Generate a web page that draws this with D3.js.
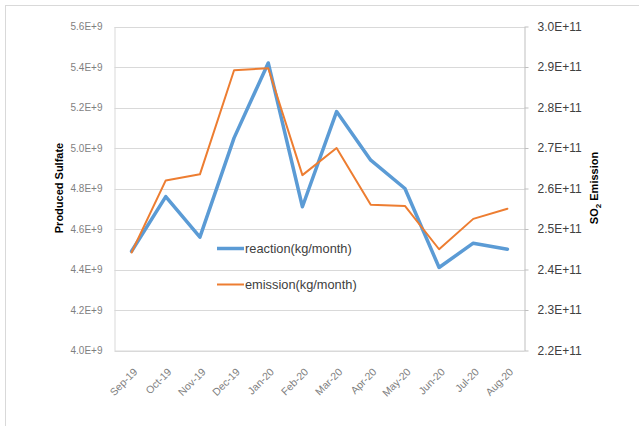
<!DOCTYPE html>
<html>
<head>
<meta charset="utf-8">
<script src="https://cdn.jsdelivr.net/npm/d3@7"></script>
<style>
  html, body { margin: 0; padding: 0; background: #fff; }
  svg { display: block; font-family: "Liberation Sans", Arial, sans-serif; }
</style>
</head>
<body>
<svg id="chart" width="639" height="426"></svg>
<script>
const months = ["Sep-19","Oct-19","Nov-19","Dec-19","Jan-20","Feb-20","Mar-20","Apr-20","May-20","Jun-20","Jul-20","Aug-20"];
const reaction = [4.49e9, 4.76e9, 4.56e9, 5.05e9, 5.42e9, 4.71e9, 5.18e9, 4.94e9, 4.80e9, 4.41e9, 4.53e9, 4.50e9];
const emission = [2.442e11, 2.62e11, 2.635e11, 2.892e11, 2.897e11, 2.633e11, 2.70e11, 2.56e11, 2.557e11, 2.45e11, 2.525e11, 2.55e11];
const leftTicks = [4.0e9, 4.2e9, 4.4e9, 4.6e9, 4.8e9, 5.0e9, 5.2e9, 5.4e9, 5.6e9];
const rightTicks = [2.2e11, 2.3e11, 2.4e11, 2.5e11, 2.6e11, 2.7e11, 2.8e11, 2.9e11, 3.0e11];
const seriesNames = ["reaction(kg/month)", "emission(kg/month)"];

const svg = d3.select("#chart");
const L = 114.5, R = 524.5, T = 26.5, B = 350.5;

// outer frame
svg.append("rect").attr("x", 5.5).attr("y", 5.5).attr("width", 800).attr("height", 600)
  .attr("fill", "none").attr("stroke", "#d9d9d9").attr("stroke-width", 1);

const x = d3.scalePoint().domain(months).range([L, R]).padding(0.5);
const yL = d3.scaleLinear().domain([4.0e9, 5.6e9]).range([B, T]);
const yR = d3.scaleLinear().domain([2.2e11, 3.0e11]).range([B, T]);

// gridlines
svg.append("g").selectAll("line").data(leftTicks).join("line")
  .attr("x1", L).attr("x2", R)
  .attr("y1", d => Math.round(yL(d)) + 0.5).attr("y2", d => Math.round(yL(d)) + 0.5)
  .attr("stroke", "#d9d9d9").attr("stroke-width", 1);

// left axis
const axL = svg.append("g").attr("transform", `translate(${L},0)`)
  .call(d3.axisLeft(yL).tickValues(leftTicks).tickSize(0).tickPadding(12)
    .tickFormat(d => (d / 1e9).toFixed(1) + "E+9"));
axL.select(".domain").attr("stroke", "#d9d9d9");
axL.selectAll("text").attr("fill", "#7f7f7f").style("font-size", "10px").style("font-family", "'Liberation Sans', Arial, sans-serif");

// right axis
const axR = svg.append("g").attr("transform", `translate(${R},0)`)
  .call(d3.axisRight(yR).tickValues(rightTicks).tickSizeInner(4).tickSizeOuter(0).tickPadding(9)
    .tickFormat(d => (d / 1e11).toFixed(1) + "E+11"));
axR.select(".domain").attr("stroke", "#bfbfbf");
axR.selectAll(".tick line").attr("stroke", "#bfbfbf");
axR.selectAll("text").attr("fill", "#404040").style("font-size", "12px").style("font-family", "'Liberation Sans', Arial, sans-serif");

// bottom axis
const axB = svg.append("g").attr("transform", `translate(0,${B})`)
  .call(d3.axisBottom(x).tickSize(0).tickPadding(0));
axB.select(".domain").attr("stroke", "#d9d9d9");
axB.selectAll("text")
  .attr("fill", "#7f7f7f").style("font-size", "10.5px").style("font-family", "'Liberation Sans', Arial, sans-serif")
  .attr("text-anchor", "end")
  .attr("dy", "0")
  .attr("transform", "translate(6,22) rotate(-45)");

// lines
const lineL = d3.line().x((d, i) => x(months[i])).y(d => yL(d));
const lineR = d3.line().x((d, i) => x(months[i])).y(d => yR(d));

svg.append("path").datum(reaction).attr("d", lineL)
  .attr("fill", "none").attr("stroke", "#5b9bd5").attr("stroke-width", 3.5)
  .attr("stroke-linejoin", "round").attr("stroke-linecap", "round");
svg.append("path").datum(emission).attr("d", lineR)
  .attr("fill", "none").attr("stroke", "#ed7d31").attr("stroke-width", 2)
  .attr("stroke-linejoin", "round").attr("stroke-linecap", "round");

// legend
const legendColors = ["#5b9bd5", "#ed7d31"];
const legendWidths = [3.5, 2];
const lg = svg.append("g");
seriesNames.forEach((name, i) => {
  const yy = 248.5 + i * 36;
  lg.append("line").attr("x1", 217).attr("x2", 244).attr("y1", yy).attr("y2", yy)
    .attr("stroke", legendColors[i]).attr("stroke-width", legendWidths[i]);
  lg.append("text").attr("x", 245).attr("y", yy + 4.5).text(name)
    .attr("fill", "#404040").style("font-size", "12.8px");
});

// axis titles
svg.append("text").attr("transform", "translate(63,188) rotate(-90)")
  .attr("text-anchor", "middle").attr("font-weight", "bold").style("font-size", "11px")
  .attr("fill", "#000").text("Produced Sulfate");

const t2 = svg.append("text").attr("transform", "translate(598,188) rotate(-90)")
  .attr("text-anchor", "middle").attr("font-weight", "bold").style("font-size", "11px").attr("fill", "#000");
t2.append("tspan").text("SO");
t2.append("tspan").text("2").style("font-size", "8px").attr("dy", "3");
t2.append("tspan").text(" Emission").attr("dy", "-3");
</script>
</body>
</html>
